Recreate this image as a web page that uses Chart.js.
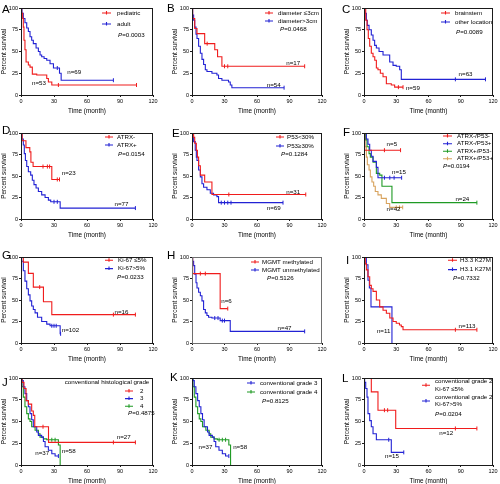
<!DOCTYPE html>
<html>
<head>
<meta charset="utf-8">
<script src="https://cdn.jsdelivr.net/npm/chart.js@4.4.1/dist/chart.umd.min.js"></script>
<style>
    body { margin: 0; background: #fff; width: 500px; height: 484px; position: relative; overflow: hidden; }
    canvas { position: absolute; }
    .tag { position: absolute; font: 11.5px/12px "Liberation Sans", Arial, sans-serif; color: #000; z-index: 2; }
</style>
</head>
<body>
<script>
// Ejes comunes
const xTicks = [0, 30, 60, 90, 120];
const yTicks = [0, 25, 50, 75, 100];

// A - edad
const A_ped_t = [0, 0.6, 1.5, 2.1, 2.7, 3.6, 4.6, 6.7, 8.2, 10.3, 14.3, 23.4, 24.9, 28, 105];
const A_ped_s = [100, 94, 88, 78, 63, 52, 38, 34.5, 32, 24, 23, 19, 15, 11.5, 11.5];
const A_ped_c = [34, 105];
const A_ad_t = [0, 0.9, 2.1, 3.6, 5.2, 6.7, 8.2, 9.7, 11.2, 13.7, 15.8, 17.3, 18.8, 21, 23.4, 26.4, 29.5, 35, 36.5, 84];
const A_ad_s = [100, 94, 88, 83, 77, 73, 67, 63, 59, 54, 50, 46, 44, 42, 40, 36, 31, 25, 17, 17];
const A_ad_c = [33, 84];

// B - diametro
const B_sm_t = [0, 0.6, 2.5, 4.6, 11.7, 21, 23.6, 27.6, 104];
const B_sm_s = [100, 88, 76.5, 70.5, 59, 52, 44, 33, 33];
const B_sm_c = [14, 30, 33, 104];
const B_lg_t = [0, 0.6, 1.5, 2.5, 3.7, 4.6, 6.1, 7.7, 9.2, 10.7, 12.3, 13.8, 18.4, 23, 24.5, 27.6, 33.7, 35.3, 36.8, 85];
const B_lg_s = [100, 92, 86, 78, 70, 65, 56, 48, 41, 35, 29, 27, 25, 23, 19, 17, 15, 11.5, 8.4, 8.4];
const B_lg_c = [85];

// C - localizacion
const C_bs_t = [0, 1.6, 2.8, 4, 5.3, 6.8, 8.4, 10, 11.5, 13, 15.2, 17.7, 20.8, 25.4, 28.5, 36.3];
const C_bs_s = [100, 86, 75, 65, 56, 48, 44, 40, 31, 29, 25, 21, 13, 11.5, 9, 9];
const C_bs_c = [32, 36.3];
const C_ot_t = [0, 0.9, 2.2, 3.1, 4.7, 6.8, 8.4, 9.9, 11.5, 14, 17.7, 23.9, 27, 30, 33.2, 34.7, 113];
const C_ot_s = [100, 94, 86, 80, 75, 69, 63, 57, 54, 50, 46, 38, 34, 33, 29, 18, 18];
const C_ot_c = [85, 113];

// D - ATRX
const D_neg_t = [0, 1, 4.5, 8, 9, 11, 28, 35];
const D_neg_s = [100, 91, 83, 78, 66, 61, 46, 46];
const D_neg_c = [20, 24, 26, 33, 35];
const D_pos_t = [0, 0.9, 2.1, 3, 4, 5.2, 6.7, 8.8, 10.3, 11.8, 13.7, 15.8, 18.8, 21.9, 24.9, 27, 35.6, 104];
const D_pos_s = [100, 93, 86, 76, 68, 61, 55, 51, 45, 40, 36, 32, 28, 25, 22, 20, 12.7, 12.7];
const D_pos_c = [30, 33, 104];

// E - P53
const E_lo_t = [0, 1.5, 2.5, 4, 5, 6.1, 7.7, 11.7, 18.4, 105];
const E_lo_s = [100, 95, 88, 80, 72, 62, 51, 43, 28.5, 28.5];
const E_lo_c = [34, 105];
const E_hi_t = [0, 0.6, 1.5, 3, 4, 4.6, 6.1, 7.7, 9.2, 10.7, 13.8, 16.9, 19.9, 23, 24.5, 84];
const E_hi_s = [100, 95, 90, 80, 72, 68, 57, 49, 41, 37, 34, 30, 28, 26, 19, 19];
const E_hi_c = [27, 30, 33, 36, 84];

// F - ATRX/P53
const F_nn_t = [0, 0.6, 34];
const F_nn_s = [100, 80, 80];
const F_nn_c = [19, 34];
const F_np_t = [0, 2.2, 3.7, 5.3, 6.8, 8.4, 11.5, 13, 35];
const F_np_s = [100, 93, 87, 80, 73, 67, 60, 48, 48];
const F_np_c = [19, 24, 28, 35];
const F_pn_t = [0, 1.6, 2.8, 4.7, 5.9, 8.4, 11.5, 14.6, 16.7, 26, 105];
const F_pn_s = [100, 92, 84, 76, 72, 66, 53, 51, 38, 19, 19];
const F_pn_c = [105];
const F_pp_t = [0, 0.9, 2.2, 3.1, 4.7, 5.9, 7.4, 9, 10.5, 13, 16.1, 20.8, 23.9, 36];
const F_pp_s = [100, 84, 72, 63, 57, 49, 43, 38, 32, 28, 24, 18, 13.5, 13.5];
const F_pp_c = [30, 33, 36];

// G - Ki-67
const G_lo_t = [0, 2.1, 6.7, 11.2, 20.4, 28, 104];
const G_lo_s = [100, 94, 81, 65, 48, 33, 33];
const G_lo_c = [17, 84, 104];
const G_hi_t = [0, 0.6, 2.1, 3.6, 5.2, 6.7, 8.2, 9.7, 11.2, 12.8, 15, 18.8, 23.4, 26.4, 35.6, 36];
const G_hi_s = [100, 95, 84, 72, 63, 56, 49, 43, 39, 35, 30, 25, 22, 20, 10.7, 10.7];
const G_hi_c = [28, 30, 32, 36];

// H - MGMT
const H_me_t = [0, 0.6, 26, 33];
const H_me_s = [100, 80.7, 40, 40];
const H_me_c = [7.7, 12.3, 33];
const H_un_t = [0, 0.6, 1.5, 2.5, 3.7, 4.6, 6.1, 7.7, 9.2, 10.7, 12.3, 13.8, 15.3, 18.4, 26, 35.3, 104];
const H_un_s = [100, 95, 90, 80, 70, 64, 59, 55, 49, 39, 35, 32, 30, 29, 26, 13.5, 13.5];
const H_un_c = [21, 24, 28, 30, 104];

// I - H3 K27M
const I_33_t = [0, 1.2, 2.2, 3.7, 5.3, 6.8, 8.4, 11.5, 14.6, 17.7, 20.8, 24, 27, 30, 33, 34.7, 36.3, 105];
const I_33_s = [100, 92, 85, 77, 67, 63, 60, 50, 42, 38, 34.6, 29, 25, 23, 21, 19, 15.4, 15.4];
const I_33_c = [85, 105];
const I_31_t = [0, 2.2, 3.7, 5, 6.5, 26];
const I_31_s = [100, 91, 73, 64, 42, 0];
const I_31_c = [];

// J / K - grado histologico
const J_2_t = [0, 0.9, 2.7, 4.6, 6.7, 9.7, 11.2, 12.5, 25, 104];
const J_2_s = [100, 95, 88, 74, 70, 62, 57, 44, 26, 26];
const J_2_c = [20, 84, 104];
const J_3_t = [0, 0.9, 2.1, 3.6, 5.2, 6.7, 8.2, 9.7, 11.2, 14.3, 15.8, 18.8, 20.4, 21.9, 24.9, 28, 31, 34];
const J_3_s = [100, 97, 90, 82, 74, 67, 59, 52, 44, 38, 34, 32, 27, 21, 17, 13, 10.3, 10.3];
const J_3_c = [34];
const J_4_t = [0, 0.9, 2.1, 3.6, 5.2, 6.7, 8.2, 9.7, 12.8, 15.8, 17.3, 20.4, 23.4, 34, 35.6];
const J_4_s = [100, 90, 78, 67, 59, 53, 50, 44, 40, 36, 32, 30, 29, 23, 0];
const J_4_c = [25, 28, 31];

// L - grado 2 por Ki-67
const L_lo_t = [0, 6.8, 13, 29.5, 105];
const L_lo_s = [100, 84, 63, 42, 42];
const L_lo_c = [19, 22, 85, 105];
const L_hi_t = [0, 0.6, 1.6, 2.8, 3.7, 5.3, 6.8, 8.4, 11.5, 25.4, 37];
const L_hi_s = [100, 95, 88, 78, 59, 51, 44, 36, 29, 14.5, 14.5];
const L_hi_c = [23, 37];

const RED = '#f01c1c', BLUE = '#2222d4', GREEN = '#1f9a24', TAN = '#d8a35e';
const FONT = '"Liberation Sans", Arial, sans-serif';

// Posicion de cada area de grafico
const colLeft = [21, 192, 364], colWidth = [132, 130, 129];
const rowTop = [8, 133, 257, 378], rowHeight = [87, 86, 86, 87];

const sr = (t, s, c, color) => ({ t, s, c, color });

const panels = [
    { letter: 'A', tag: [2, 3], col: 0, row: 0,
      series: [sr(A_ped_t, A_ped_s, A_ped_c, RED), sr(A_ad_t, A_ad_s, A_ad_c, BLUE)],
      legend: { x0: 81, x1: 90, tx: 96, rows: [[5, 'pediatric', RED], [16, 'adult', BLUE]] },
      p: [97, 27, '=0.0003'],
      notes: [[42, 26, 'n=69'], [10, 14, 'n=53']] },
    { letter: 'B', tag: [167, 2], col: 1, row: 0,
      series: [sr(B_sm_t, B_sm_s, B_sm_c, RED), sr(B_lg_t, B_lg_s, B_lg_c, BLUE)],
      legend: { x0: 73, x1: 81, tx: 86, rows: [[5, 'diameter \u22643cm', RED], [13, 'diameter>3cm', BLUE]] },
      p: [88, 21, '=0.0468'],
      notes: [[87, 36, 'n=17'], [69, 11.5, 'n=54']] },
    { letter: 'C', tag: [342, 3], col: 2, row: 0,
      series: [sr(C_bs_t, C_bs_s, C_bs_c, RED), sr(C_ot_t, C_ot_s, C_ot_c, BLUE)],
      legend: { x0: 77, x1: 86, tx: 91, rows: [[5, 'brainstem', RED], [14, 'other location', BLUE]] },
      p: [92, 24, '=0.0089'],
      notes: [[88, 24, 'n=63'], [39, 8, 'n=59']] },
    { letter: 'D', tag: [2, 124], col: 0, row: 1,
      series: [sr(D_neg_t, D_neg_s, D_neg_c, RED), sr(D_pos_t, D_pos_s, D_pos_c, BLUE)],
      legend: { x0: 84, x1: 92, tx: 96, rows: [[4, 'ATRX-', RED], [12, 'ATRX+', BLUE]] },
      p: [97, 21, '=0.0154'],
      notes: [[37, 53, 'n=23'], [85, 17.5, 'n=77']] },
    { letter: 'E', tag: [172, 127], col: 1, row: 1,
      series: [sr(E_lo_t, E_lo_s, E_lo_c, RED), sr(E_hi_t, E_hi_s, E_hi_c, BLUE)],
      legend: { x0: 84, x1: 92, tx: 95, rows: [[4, 'P53<30%', RED], [13, 'P53\u226530%', BLUE]] },
      p: [89, 21, '=0.1284'],
      notes: [[87, 31, 'n=31'], [69, 13, 'n=69']] },
    { letter: 'F', tag: [343, 126], col: 2, row: 1,
      series: [sr(F_nn_t, F_nn_s, F_nn_c, RED), sr(F_np_t, F_np_s, F_np_c, BLUE),
               sr(F_pn_t, F_pn_s, F_pn_c, GREEN), sr(F_pp_t, F_pp_s, F_pp_c, TAN)],
      legend: { x0: 79, x1: 88, tx: 93, rows: [[3, 'ATRX-/P53-', RED], [10.7, 'ATRX-/P53+', BLUE],
                                              [18.3, 'ATRX+/P53-', GREEN], [25.7, 'ATRX+/P53+', TAN]] },
      p: [79, 33, '=0.0194'],
      notes: [[21, 87, 'n=5'], [26, 54, 'n=15'], [85, 23, 'n=24'], [21, 11, 'n=42']] },
    { letter: 'G', tag: [2, 249], col: 0, row: 2,
      series: [sr(G_lo_t, G_lo_s, G_lo_c, RED), sr(G_hi_t, G_hi_s, G_hi_c, BLUE)],
      legend: { x0: 84, x1: 92, tx: 97, rows: [[3.3, 'Ki-67 \u22645%', RED], [11.6, 'Ki-67>5%', BLUE]] },
      p: [96, 20.6, '=0.0233'],
      notes: [[85, 36, 'n=16'], [37, 14.6, 'n=102']] },
    { letter: 'H', tag: [167, 249], col: 1, row: 2, box: '#6e6e6e',
      series: [sr(H_me_t, H_me_s, H_me_c, RED), sr(H_un_t, H_un_s, H_un_c, BLUE)],
      legend: { x0: 59, x1: 67, tx: 70, rows: [[5, 'MGMT methylated', RED], [13, 'MGMT unmethylated', BLUE]] },
      p: [75, 21.6, '=0.5126'],
      notes: [[27, 48, 'n=6'], [79, 17, 'n=47']] },
    { letter: 'I', tag: [346, 254], col: 2, row: 2,
      series: [sr(I_33_t, I_33_s, I_33_c, RED), sr(I_31_t, I_31_s, I_31_c, BLUE)],
      legend: { x0: 84, x1: 93, tx: 96, rows: [[3.3, 'H3.3 K27M', RED], [12.6, 'H3.1 K27M', BLUE]] },
      p: [89, 21.6, '=0.7332'],
      notes: [[88, 19, 'n=113'], [12, 13.5, 'n=11']] },
    { letter: 'J', tag: [2, 376], col: 0, row: 3,
      series: [sr(J_2_t, J_2_s, J_2_c, RED), sr(J_3_t, J_3_s, J_3_c, BLUE), sr(J_4_t, J_4_s, J_4_c, GREEN)],
      title: [128.3, 4.3, 'conventional histological grade'],
      legend: { x0: 104, x1: 112, tx: 119, rows: [[13, '2', RED], [20.6, '3', BLUE], [28.3, '4', GREEN]] },
      p: [107, 35.6, '=0.4875'],
      notes: [[87, 32, 'n=27'], [13, 13.5, 'n=37'], [37, 16, 'n=58']] },
    { letter: 'K', tag: [170, 371], col: 1, row: 3,
      series: [sr(J_3_t, J_3_s, J_3_c, BLUE), sr(J_4_t, J_4_s, J_4_c, GREEN)],
      legend: { x0: 55, x1: 63, tx: 68, rows: [[5, 'conventional grade 3', BLUE], [14, 'conventional grade 4', GREEN]] },
      p: [70, 23, '=0.8125'],
      notes: [[6, 20, 'n=37'], [38, 20, 'n=58']] },
    { letter: 'L', tag: [342, 372], col: 2, row: 3,
      series: [sr(L_lo_t, L_lo_s, L_lo_c, RED), sr(L_hi_t, L_hi_s, L_hi_c, BLUE)],
      legend: { x0: 58, x1: 66, tx: 71, rows: [[7.3, 'conventional grade 2\nKi-67 \u22645%', RED],
                                              [23, 'conventional grade 2\nKi-67>5%', BLUE]] },
      p: [71, 36.3, '=0.0204'],
      notes: [[70, 37, 'n=12'], [19.5, 10, 'n=15']] },
];

// Valor de supervivencia en un tiempo dado (curva escalonada)
function survAt(ts, ss, x) {
    let v = ss[0];
    ts.forEach((t, i) => { if (t <= x) v = ss[i]; });
    return v;
}

// Dibuja marco, leyenda, valor P y etiquetas n=
function makeOverlay(pn) {
    return {
        id: 'overlay',
        afterDatasetsDraw(chart) {
            const { ctx, chartArea: a, scales } = chart;
            const L = Math.round(a.left), T = Math.round(a.top);
            ctx.save();
            ctx.strokeStyle = pn.box || '#1a1a1a';
            ctx.lineWidth = 1;
            ctx.strokeRect(L + 0.5, T + 0.5, Math.round(a.right) - L - 1, Math.round(a.bottom) - T);

            ctx.textBaseline = 'middle';
            ctx.fillStyle = '#000';
            const font = '6.2px ' + FONT;

            if (pn.title) {
                ctx.font = font;
                ctx.textAlign = 'right';
                ctx.fillText(pn.title[2], a.left + pn.title[0], a.top + pn.title[1]);
            }
            ctx.textAlign = 'left';
            const lg = pn.legend;
            lg.rows.forEach(([dy, text, color]) => {
                const y = a.top + dy;
                const mx = a.left + (lg.x0 + lg.x1) / 2;
                ctx.strokeStyle = color;
                ctx.lineWidth = 1.1;
                ctx.beginPath();
                ctx.moveTo(a.left + lg.x0, y);
                ctx.lineTo(a.left + lg.x1, y);
                ctx.moveTo(mx, y - 2);
                ctx.lineTo(mx, y + 1.5);
                ctx.stroke();
                ctx.font = font;
                const lines = text.split('\n');
                lines.forEach((ln, i) => {
                    ctx.fillText(ln, a.left + lg.tx, y + (i - (lines.length - 1) / 2) * 7.3);
                });
            });

            const [px, py, ptxt] = pn.p;
            ctx.font = 'italic ' + font;
            ctx.fillText('P', a.left + px, a.top + py);
            const w = ctx.measureText('P').width;
            ctx.font = font;
            ctx.fillText(ptxt, a.left + px + w, a.top + py);

            pn.notes.forEach(([t, s, text]) => {
                ctx.fillText(text, scales.x.getPixelForValue(t), scales.y.getPixelForValue(s));
            });
            ctx.restore();
        }
    };
}

function axisOpts(title, ticks, fit) {
    return {
        type: 'linear',
        min: 0,
        max: ticks[ticks.length - 1],
        afterBuildTicks: s => { s.ticks = ticks.map(v => ({ value: v })); },
        afterFit: fit,
        grid: { display: true, drawOnChartArea: false, drawTicks: true, tickLength: 2, color: '#1a1a1a', lineWidth: 1 },
        border: { display: false },
        ticks: { font: { family: FONT, size: 5.5 }, color: '#000', padding: 1, maxRotation: 0, autoSkip: false },
        title: { display: true, text: title, font: { family: FONT, size: 6.4 }, color: '#000', padding: 0 }
    };
}

panels.forEach(pn => {
    const L = colLeft[pn.col], T = rowTop[pn.row];
    const W = colWidth[pn.col], H = rowHeight[pn.row];
    const cw = W + 21 + 14, ch = H + 28;

    const cv = document.createElement('canvas');
    cv.width = cw;
    cv.height = ch;
    cv.style.cssText = `left:${L - 21}px;top:${T - 8}px;width:${cw}px;height:${ch}px`;
    document.body.appendChild(cv);

    const tag = document.createElement('div');
    tag.className = 'tag';
    tag.style.left = pn.tag[0] + 'px';
    tag.style.top = pn.tag[1] + 'px';
    tag.textContent = pn.letter;
    document.body.appendChild(tag);

    const datasets = [];
    pn.series.forEach(s => {
        datasets.push({
            data: s.t.map((t, i) => ({ x: t, y: s.s[i] })),
            borderColor: s.color, borderWidth: 1.1, stepped: true,
            pointRadius: 0, fill: false
        });
        if (s.c.length) {
            datasets.push({
                data: s.c.map(t => ({ x: t, y: survAt(s.t, s.s, t) })),
                showLine: false, pointStyle: 'line', rotation: 90,
                pointRadius: 2, borderColor: s.color, borderWidth: 1
            });
        }
    });

    new Chart(cv, {
        type: 'line',
        data: { datasets },
        options: {
            responsive: false,
            animation: false,
            devicePixelRatio: 1,
            events: [],
            layout: { padding: { left: 0, top: 8, right: 14, bottom: 0 } },
            plugins: { legend: { display: false }, tooltip: { enabled: false } },
            scales: {
                x: axisOpts('Time (month)', xTicks, s => { s.height = 20; }),
                y: axisOpts('Percent survival', yTicks, s => { s.width = 21; })
            }
        },
        plugins: [makeOverlay(pn)]
    });
});
</script>
</body>
</html>
